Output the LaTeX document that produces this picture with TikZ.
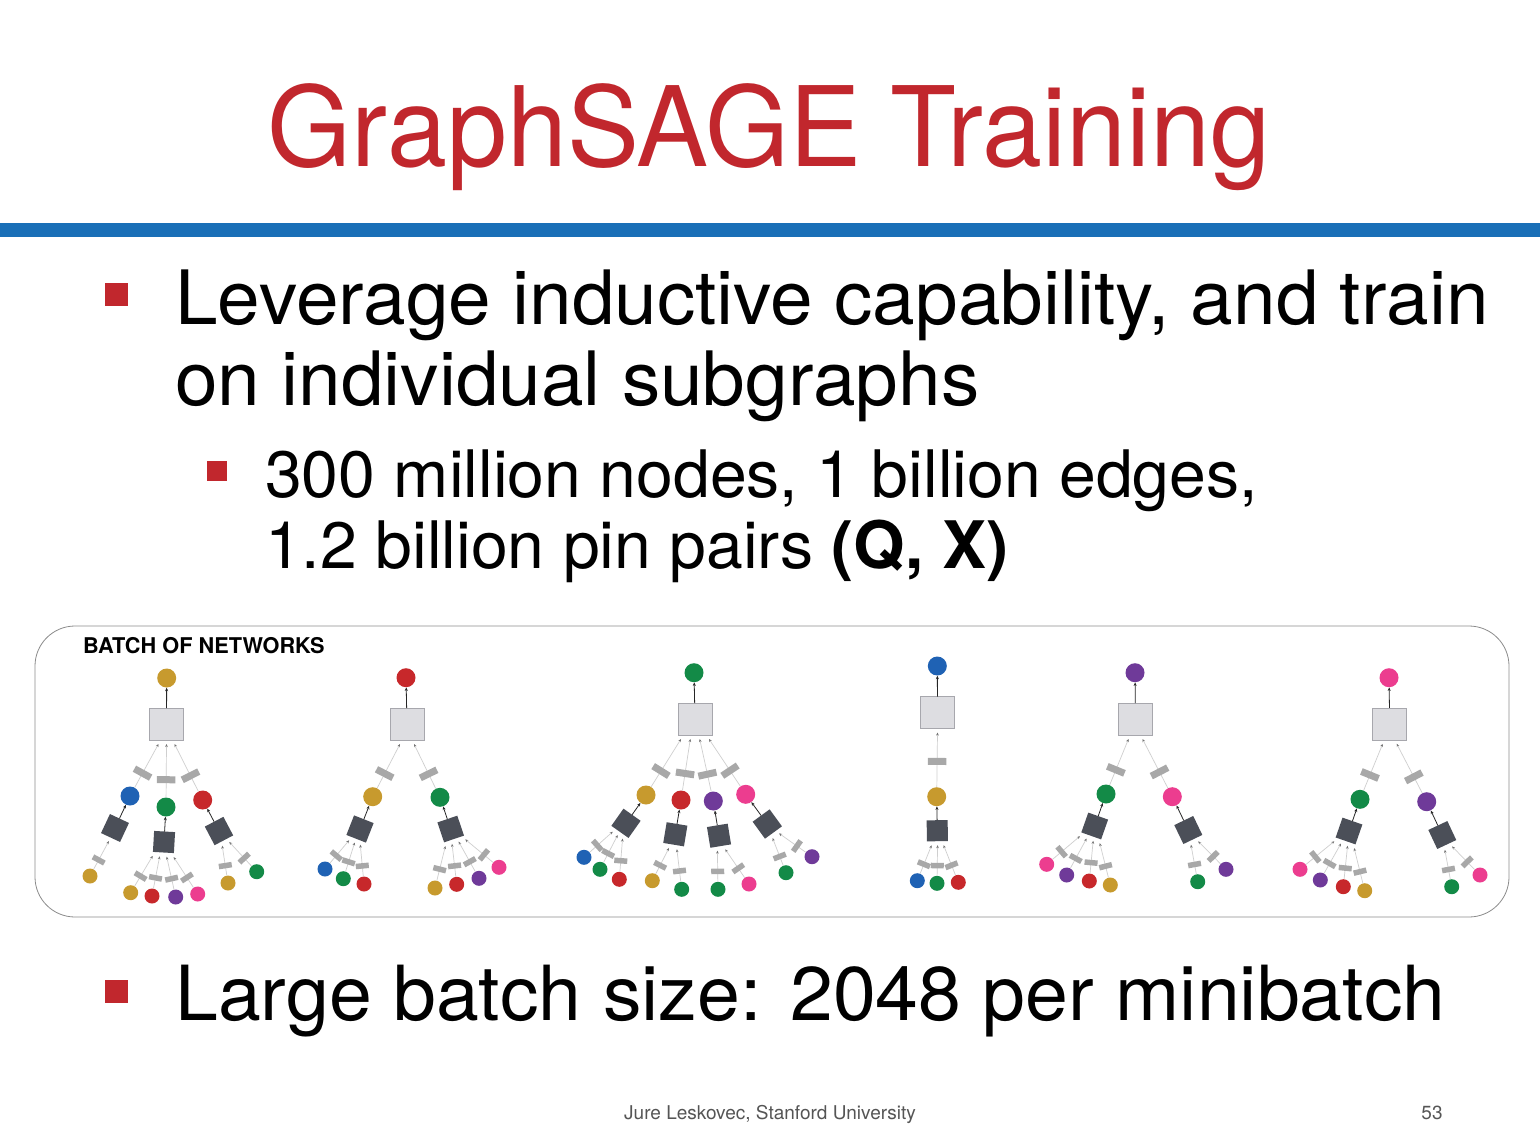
\documentclass[tikz,border=0pt]{standalone}
\usepackage{fontspec}
\setmainfont{TeX Gyre Heros}
\usetikzlibrary{arrows.meta,calc}
\definecolor{titlered}{HTML}{C1272D}
\definecolor{barblue}{HTML}{1A6FB7}
\definecolor{cgold}{HTML}{C79A2E}
\definecolor{cblue}{HTML}{1F62B4}
\definecolor{cgreen}{HTML}{138A47}
\definecolor{cred}{HTML}{C7282B}
\definecolor{cpurple}{HTML}{6F3A99}
\definecolor{cpink}{HTML}{EC3D8F}
\definecolor{lsqfill}{HTML}{DDDDE1}
\definecolor{lsqdraw}{HTML}{A7A7AD}
\definecolor{dsqfill}{HTML}{4B4F58}
\definecolor{barfill}{HTML}{A8A8A8}
\definecolor{edgegray}{HTML}{CFCFCF}
\definecolor{footgray}{HTML}{555555}
\tikzset{
 cnode/.style={circle, inner sep=0pt, draw=none},
 rootc/.style={cnode, minimum size=19pt},
 midc/.style={cnode, minimum size=19pt},
 leafc/.style={cnode, minimum size=15pt},
 lsq/.style={rectangle, fill=lsqfill, draw=lsqdraw, line width=0.6pt, minimum width=34pt, minimum height=32pt, inner sep=0pt, outer sep=4pt},
 dsq/.style={rectangle, fill=dsqfill, minimum size=21pt, inner sep=0pt, outer sep=4pt},
 lnk/.style={draw=edgegray, line width=0.7pt, -{Stealth[length=3pt,width=2.6pt,color=black!55]}},
 bigbar/.style={rectangle, fill=barfill, inner sep=0pt, minimum width=7pt, minimum height=18.5pt, sloped, pos=0.33},
 smallbar/.style={rectangle, fill=barfill, inner sep=0pt, minimum width=5.5pt, minimum height=13pt, sloped, pos=0.33},
 uparr/.style={draw=black!85, line width=0.8pt, -{Stealth[length=3.5pt,width=3pt]}},
 txt/.style={anchor=base west, inner sep=0pt, text=black},
 bsq/.style={rectangle, fill=titlered, inner sep=0pt},
}
\newcommand\MkTop[7]{% root name, rx, ry, color, square name, sx, sy
 \node[rootc,fill=#4] (#1) at (#2,#3) {};
 \node[lsq] (#5) at (#6,#7) {};
 \draw[uparr,shorten <=16pt] (#5.center) -- (#1);
}
\newcommand\MkMid[7]{% name,x,y,color,square,offset,barpos
 \node[midc,fill=#4] (#1) at (#2,#3) {};
 \coordinate (#1-t) at ($(#5.south)!#6pt!(#5.south east)$);
 \draw[lnk] (#1) -- (#1-t) node[bigbar,pos=#7]{};
}
\newcommand\MkLeaf[6]{% name,x,y,color,square,offset
 \node[leafc,fill=#4] (#1) at (#2,#3) {};
 \coordinate (#1-t) at ($(#5.south)!#6pt!(#5.south east)$);
 \draw[lnk] (#1) -- (#1-t) node[smallbar]{};
}
\newcommand\MkDark[6]{% name,xs,ys,xc,yc,child
 \pgfmathsetmacro\dang{atan2(#3-#5,#4-#2)-90}
 \node[dsq,rotate=\dang] (#1) at (#2,#3) {};
 \draw[uparr,shorten <=10.5pt] (#1.center) -- (#6);
}
\begin{document}
\begin{tikzpicture}[x=1pt,y=-1pt]
\useasboundingbox (0,0) rectangle (1540,1125);
\fill[white] (0,0) rectangle (1540,1125);
% title
\node[anchor=base, inner sep=0pt, text=titlered, xscale=0.972, font=\fontsize{111}{120}\selectfont] (title) at (769,166) {GraphSAGE Training};
\fill[barblue] (0,223) rectangle (1540,237);
% bullets
\node[bsq, minimum size=23pt] (b1) at (116.5,294.5) {};
\node[txt, xscale=1.021, font=\fontsize{75}{81}\selectfont] (l1) at (175,324) {Leverage inductive capability, and train};
\node[txt, xscale=1.021, font=\fontsize{75}{81}\selectfont] (l2) at (175,405) {on individual subgraphs};
\node[bsq, minimum size=20pt] (b2) at (216.5,470.5) {};
\node[txt, xscale=1.01, font=\fontsize{65.5}{71}\selectfont] (s1) at (265,497) {300 million nodes, 1 billion edges,};
\node[txt, xscale=1.01, font=\fontsize{65.5}{71}\selectfont] (s2) at (265,568) {1.2 billion pin pairs \textbf{(Q, X)}};
\node[bsq, minimum size=23pt] (b3) at (116.5,991.5) {};
\node[txt, xscale=1.014, font=\fontsize{76}{81}\selectfont] (l3) at (175,1020) {Large batch size: 2048 per minibatch};
% footer
\node[anchor=base, inner sep=0pt, text=footgray, font=\fontsize{19}{22}\selectfont] (foot) at (770,1119) {Jure Leskovec, Stanford University};
\node[anchor=base, inner sep=0pt, text=footgray, font=\fontsize{19}{22}\selectfont] (page) at (1432,1119) {53};
% frame
\node[draw=black!45, line width=0.8pt, rounded corners=40pt, minimum width=1474pt, minimum height=291pt, inner sep=0pt] (box) at (772,771.5) {};
\node[txt, font=\bfseries\fontsize{21.7}{24}\selectfont] (batch) at (83,653.5) {BATCH OF NETWORKS};
% ---- tree 1
\MkTop{t1r}{166.7}{678}{cgold}{t1s}{166.5}{724}
\MkMid{t1a}{130}{796}{cblue}{t1s}{-8}{0.33}
\MkMid{t1b}{166}{807}{cgreen}{t1s}{0}{0.33}
\MkMid{t1c}{202.7}{800}{cred}{t1s}{8}{0.33}
\MkDark{t1as}{115}{828}{130}{796}{t1a}
\MkDark{t1bs}{164}{842}{166}{807}{t1b}
\MkDark{t1cs}{219}{831}{202.7}{800}{t1c}
\MkLeaf{t1a1}{90}{876}{cgold}{t1as}{0}
\MkLeaf{t1b1}{130.7}{892.7}{cgold}{t1bs}{-10.5}
\MkLeaf{t1b2}{152}{896}{cred}{t1bs}{-3.5}
\MkLeaf{t1b3}{175.7}{897}{cpurple}{t1bs}{3.5}
\MkLeaf{t1b4}{197.7}{894}{cpink}{t1bs}{10.5}
\MkLeaf{t1c1}{228}{883}{cgold}{t1cs}{-4}
\MkLeaf{t1c2}{256.7}{871.7}{cgreen}{t1cs}{4}
% ---- tree 2
\MkTop{t2r}{406}{677.7}{cred}{t2s}{407}{724}
\MkMid{t2a}{372.7}{796.7}{cgold}{t2s}{-7}{0.33}
\MkMid{t2b}{440}{797.3}{cgreen}{t2s}{7}{0.33}
\MkDark{t2as}{360}{829}{372.7}{796.7}{t2a}
\MkDark{t2bs}{450.7}{829}{440}{797.3}{t2b}
\MkLeaf{t2a1}{325}{869}{cblue}{t2as}{-6}
\MkLeaf{t2a2}{343.3}{878.7}{cgreen}{t2as}{0}
\MkLeaf{t2a3}{364}{884}{cred}{t2as}{6}
\MkLeaf{t2b1}{435}{888}{cgold}{t2bs}{-10.5}
\MkLeaf{t2b2}{456.7}{884.3}{cred}{t2bs}{-3.5}
\MkLeaf{t2b3}{479}{878.3}{cpurple}{t2bs}{3.5}
\MkLeaf{t2b4}{499}{867.3}{cpink}{t2bs}{10.5}
% ---- tree 3
\MkTop{t3r}{694}{672.7}{cgreen}{t3s}{695}{719}
\MkMid{t3a}{646}{795}{cgold}{t3s}{-14}{0.33}
\MkMid{t3b}{681}{800}{cred}{t3s}{-4.7}{0.33}
\MkMid{t3c}{713.3}{801}{cpurple}{t3s}{4.7}{0.33}
\MkMid{t3d}{745.7}{794.3}{cpink}{t3s}{14}{0.33}
\MkDark{t3as}{626}{823.3}{646}{795}{t3a}
\MkDark{t3bs}{675.3}{834.3}{681}{800}{t3b}
\MkDark{t3cs}{719}{835.7}{713.3}{801}{t3c}
\MkDark{t3ds}{767.3}{824}{745.7}{794.3}{t3d}
\MkLeaf{t3a1}{584}{857.3}{cblue}{t3as}{-6}
\MkLeaf{t3a2}{600}{869.3}{cgreen}{t3as}{0}
\MkLeaf{t3a3}{619.3}{879.3}{cred}{t3as}{6}
\MkLeaf{t3b1}{652.3}{880.7}{cgold}{t3bs}{-4}
\MkLeaf{t3b2}{681.7}{889.3}{cgreen}{t3bs}{4}
\MkLeaf{t3c1}{718}{889.3}{cgreen}{t3cs}{-4}
\MkLeaf{t3c2}{749}{884}{cpink}{t3cs}{4}
\MkLeaf{t3d1}{786}{872.7}{cgreen}{t3ds}{-4}
\MkLeaf{t3d2}{812}{856.7}{cpurple}{t3ds}{4}
% ---- tree 4
\MkTop{t4r}{937.3}{666}{cblue}{t4s}{937.5}{712.5}
\MkMid{t4a}{936.7}{796.7}{cgold}{t4s}{0}{0.47}
\MkDark{t4as}{937.3}{830.7}{936.7}{796.7}{t4a}
\MkLeaf{t4a1}{917.3}{880.7}{cblue}{t4as}{-6}
\MkLeaf{t4a2}{937}{883.3}{cgreen}{t4as}{0}
\MkLeaf{t4a3}{958.3}{882.3}{cred}{t4as}{6}
% ---- tree 5
\MkTop{t5r}{1135}{672.7}{cpurple}{t5s}{1135.5}{719}
\MkMid{t5a}{1106}{794}{cgreen}{t5s}{-7}{0.33}
\MkMid{t5b}{1172.3}{796.7}{cpink}{t5s}{7}{0.33}
\MkDark{t5as}{1094.7}{826}{1106}{794}{t5a}
\MkDark{t5bs}{1188.3}{830}{1172.3}{796.7}{t5b}
\MkLeaf{t5a1}{1046.7}{864.3}{cpink}{t5as}{-10.5}
\MkLeaf{t5a2}{1066.7}{875}{cpurple}{t5as}{-3.5}
\MkLeaf{t5a3}{1089.3}{881}{cred}{t5as}{3.5}
\MkLeaf{t5a4}{1110.3}{885}{cgold}{t5as}{10.5}
\MkLeaf{t5b1}{1197.7}{881.7}{cgreen}{t5bs}{-4}
\MkLeaf{t5b2}{1226}{869.3}{cpurple}{t5bs}{4}
% ---- tree 6
\MkTop{t6r}{1389}{677.7}{cpink}{t6s}{1389.7}{723.8}
\MkMid{t6a}{1360}{799.3}{cgreen}{t6s}{-7}{0.33}
\MkMid{t6b}{1426.7}{801.7}{cpurple}{t6s}{7}{0.33}
\MkDark{t6as}{1349}{831}{1360}{799.3}{t6a}
\MkDark{t6bs}{1442.3}{835}{1426.7}{801.7}{t6b}
\MkLeaf{t6a1}{1300}{869.3}{cpink}{t6as}{-10.5}
\MkLeaf{t6a2}{1320.3}{880}{cpurple}{t6as}{-3.5}
\MkLeaf{t6a3}{1343.3}{886.7}{cred}{t6as}{3.5}
\MkLeaf{t6a4}{1364.7}{890.7}{cgold}{t6as}{10.5}
\MkLeaf{t6b1}{1451.7}{886.7}{cgreen}{t6bs}{-4}
\MkLeaf{t6b2}{1480}{875}{cpink}{t6bs}{4}
\end{tikzpicture}
\end{document}
